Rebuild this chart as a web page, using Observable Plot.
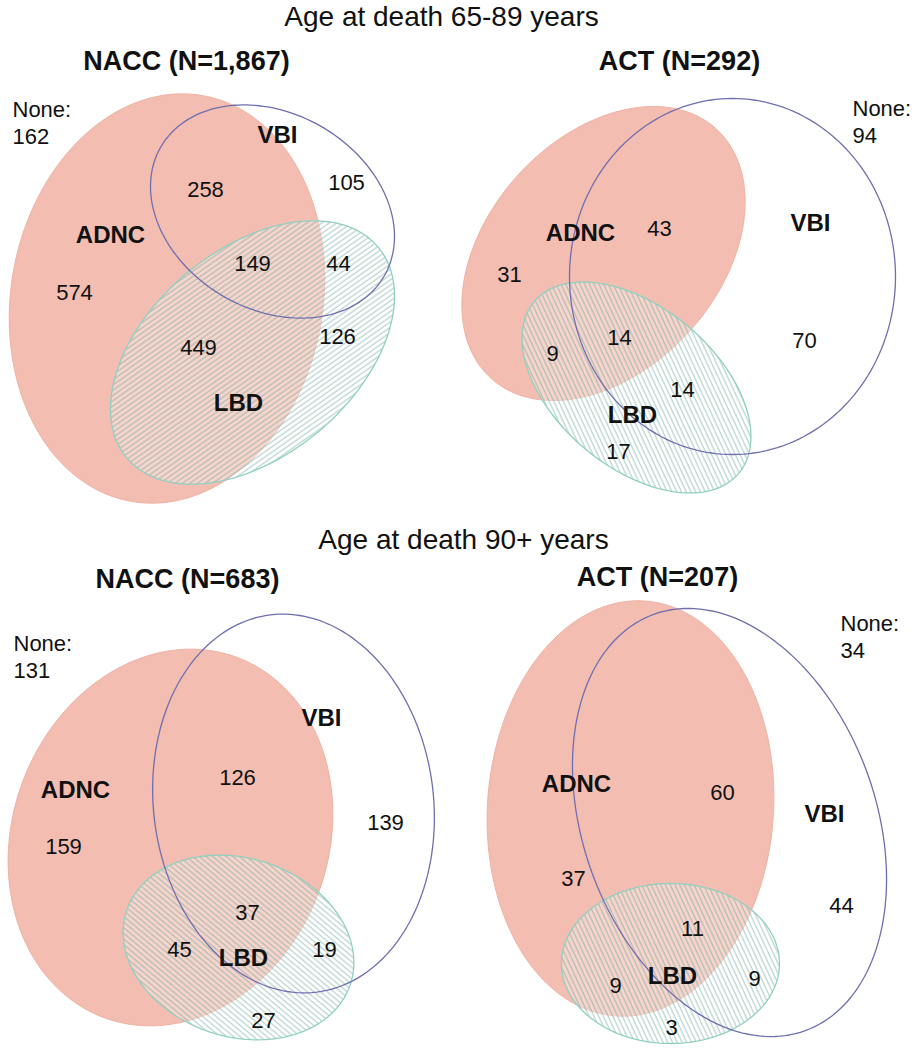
<!DOCTYPE html>
<html><head><meta charset="utf-8">
<script src="https://cdn.jsdelivr.net/npm/d3@7"></script>
<script src="https://cdn.jsdelivr.net/npm/@observablehq/plot@0.6"></script>
<style>body{margin:0;background:#fff} svg{display:block}</style>
</head><body><div id="chart"></div>
<script>
// ---------- data ----------
const groupTitles = ["Age at death 65-89 years", "Age at death 90+ years"];
const panelTitles = ["NACC (N=1,867)", "ACT (N=292)", "NACC (N=683)", "ACT (N=207)"];
const setNames = ["ADNC", "VBI", "LBD"];
const regions = ["adncOnly", "vbiOnly", "lbdOnly", "adncVbi", "adncLbd", "vbiLbd", "allThree"];
// counts per panel (NACC 65-89, ACT 65-89, NACC 90+, ACT 90+)
const adncOnly = [574, 31, 159, 37];
const vbiOnly  = [105, 70, 139, 44];
const lbdOnly  = [126, 17, 27, 3];
const adncVbi  = [258, 43, 126, 60];
const adncLbd  = [449, 9, 45, 9];
const vbiLbd   = [44, 14, 19, 9];
const allThree = [149, 14, 37, 11];
const noneCount = [162, 94, 131, 34];
const counts = {adncOnly, vbiOnly, lbdOnly, adncVbi, adncLbd, vbiLbd, allThree};

// ---------- layout (shape geometry & label anchors, in pixel-space data units) ----------
// ellipse: [cx, cy, semi-axis a, semi-axis b, rotation deg (counter-clockwise)] for ADNC, VBI, LBD
const ellipseLayout = [
  [[166.5, 298, 206, 156, 80],   [272, 211, 129, 98, -30],   [252, 352, 164, 103, 40]],
  [[603, 253, 168, 116, 48],     [732, 276, 163, 178, 0],    [636, 387, 133.5, 80, -40]],
  [[170, 837, 192, 158, 70],     [293, 803, 190, 140, 97],   [238, 947, 117.8, 89.2, -18]],
  [[630, 808, 208, 143, 86],     [729, 822, 221.5, 146.4, 110], [670, 963, 109, 80, 0]]
];
const regionLayout = [
  {adncOnly:[74,292], vbiOnly:[346,182], lbdOnly:[337,336], adncVbi:[205,189], adncLbd:[198,347], vbiLbd:[338,263], allThree:[252,263]},
  {adncOnly:[509,274], vbiOnly:[804,340], lbdOnly:[618,451], adncVbi:[659,228], adncLbd:[552,353], vbiLbd:[682,389], allThree:[619,337]},
  {adncOnly:[63,846], vbiOnly:[385,822], lbdOnly:[263,1020], adncVbi:[237,777], adncLbd:[179,949], vbiLbd:[324,949], allThree:[247,912]},
  {adncOnly:[573,878], vbiOnly:[841,905], lbdOnly:[671,1027], adncVbi:[722,792], adncLbd:[615,985], vbiLbd:[754,978], allThree:[692,928]}
];
const setLabelLayout = [
  [[110,235], [277,135], [238,403]],
  [[580,233], [810,223], [632,415]],
  [[75,790],  [321,718], [243,958]],
  [[576,784], [824,814], [672,976]]
];
const noneLayout = [[12,106], [852,105], [13,640], [840,620]];
const panelTitleLayout = [[186,61], [679,61], [187,579], [657,577]];
const groupTitleLayout = [[441,17], [463,540]];
const hatchAngle = [55, -25, -50, -25];

// ---------- build tables ----------
function ellipsePoints(e, id) {
  const [cx, cy, a, b, deg] = e, th = deg * Math.PI / 180;
  return d3.range(0, 360, 2).map(t => {
    const r = t * Math.PI / 180;
    return {id,
      x: cx + a * Math.cos(r) * Math.cos(th) + b * Math.sin(r) * Math.sin(th),
      y: cy - a * Math.cos(r) * Math.sin(th) + b * Math.sin(r) * Math.cos(th)};
  });
}
const shapes = ellipseLayout.map((p, i) => p.map((e, s) => ellipsePoints(e, `${i}-${setNames[s]}`)));
const countRows = [];
panelTitles.forEach((_, i) => regions.forEach(r => {
  countRows.push({x: regionLayout[i][r][0], y: regionLayout[i][r][1], text: String(counts[r][i])});
}));
const setRows = [];
panelTitles.forEach((_, i) => setNames.forEach((s, k) => setRows.push({x: setLabelLayout[i][k][0], y: setLabelLayout[i][k][1], text: s})));
const noneRows = panelTitles.map((_, i) => ({x: noneLayout[i][0], y: noneLayout[i][1], text: `None:\n${noneCount[i]}`}));
const titleRows = panelTitles.map((t, i) => ({x: panelTitleLayout[i][0], y: panelTitleLayout[i][1], text: t}));
const groupRows = groupTitles.map((t, i) => ({x: groupTitleLayout[i][0], y: groupTitleLayout[i][1], text: t}));

const marks = [];
shapes.forEach((p, i) => {
  marks.push(Plot.line(p[0], {x: "x", y: "y", curve: "linear-closed", fill: "#f3bdb1", stroke: "#efb2a4", strokeWidth: 1}));
});
shapes.forEach((p, i) => {
  marks.push(Plot.line(p[2], {x: "x", y: "y", curve: "linear-closed", fill: "#ffffff", fillOpacity: 0.35, stroke: "none"}));
  marks.push(Plot.line(p[2], {x: "x", y: "y", curve: "linear-closed", fill: `url(#hatch${i})`, stroke: "#8fd0c0", strokeWidth: 1.3}));
});
shapes.forEach((p, i) => {
  marks.push(Plot.line(p[1], {x: "x", y: "y", curve: "linear-closed", fill: "none", stroke: "#6f6fb0", strokeWidth: 1.3}));
});
const font = "Liberation Sans, Arial, sans-serif";
marks.push(Plot.text(countRows, {x: "x", y: "y", text: "text", fontSize: 22, fill: "#111", fontFamily: font}));
marks.push(Plot.text(setRows, {x: "x", y: "y", text: "text", fontSize: 24, fontWeight: "bold", fill: "#111", fontFamily: font}));
marks.push(Plot.text(noneRows, {x: "x", y: "y", text: "text", fontSize: 22, textAnchor: "start", lineAnchor: "top", lineHeight: 1.2, dy: -8, fill: "#111", fontFamily: font}));
marks.push(Plot.text(titleRows, {x: "x", y: "y", text: "text", fontSize: 27, fontWeight: "bold", fill: "#111", fontFamily: font}));
marks.push(Plot.text(groupRows, {x: "x", y: "y", text: "text", fontSize: 28, fill: "#111", fontFamily: font}));

const svg = Plot.plot({
  width: 912, height: 1050, margin: 0,
  style: {fontFamily: font, background: "#fff"},
  x: {domain: [0, 912], axis: null},
  y: {domain: [0, 1050], reverse: true, axis: null},
  marks
});
const defs = d3.select(svg).insert("defs", ":first-child");
hatchAngle.forEach((ang, i) => {
  const pat = defs.append("pattern").attr("id", `hatch${i}`).attr("patternUnits", "userSpaceOnUse")
    .attr("width", 4.3).attr("height", 10).attr("patternTransform", `rotate(${ang})`);
  pat.append("line").attr("x1", 1).attr("y1", 0).attr("x2", 1).attr("y2", 10)
    .attr("stroke", "#5d9f92").attr("stroke-width", 0.8).attr("stroke-opacity", 0.75);
});
document.getElementById("chart").appendChild(svg);
</script></body></html>
